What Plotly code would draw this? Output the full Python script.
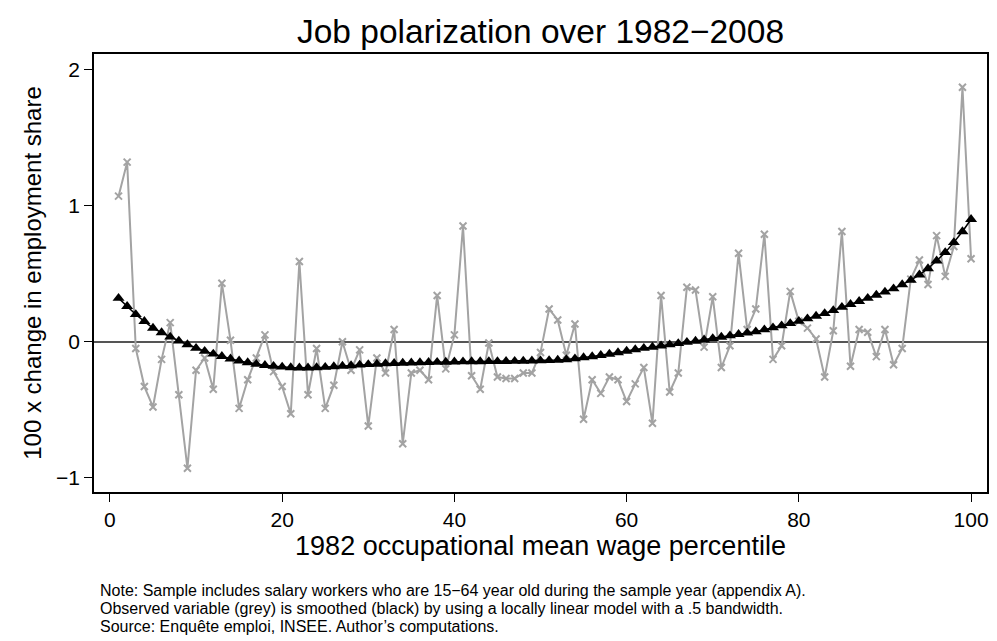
import plotly.graph_objects as go

percentile = list(range(1, 101))

observed = [
    1.07, 1.32, -0.05, -0.33, -0.48, -0.13, 0.14, -0.39, -0.93, -0.21,
    -0.12, -0.35, 0.43, 0.01, -0.49, -0.28, -0.12, 0.05, -0.22, -0.33,
    -0.53, 0.59, -0.39, -0.05, -0.49, -0.32, 0.00, -0.21, -0.06, -0.62,
    -0.12, -0.23, 0.09, -0.75, -0.23, -0.21, -0.28, 0.34, -0.20, 0.05,
    0.85, -0.25, -0.35, -0.01, -0.26, -0.27, -0.27, -0.23, -0.23, -0.08,
    0.24, 0.16, -0.10, 0.13, -0.57, -0.28, -0.38, -0.26, -0.28, -0.44,
    -0.31, -0.19, -0.60, 0.34, -0.37, -0.23, 0.40, 0.38, -0.04, 0.33,
    -0.19, -0.03, 0.65, 0.09, 0.24, 0.79, -0.13, -0.03, 0.37, 0.15,
    0.10, 0.02, -0.26, 0.08, 0.81, -0.18, 0.09, 0.07, -0.11, 0.09,
    -0.17, -0.05, 0.46, 0.60, 0.42, 0.78, 0.48, 0.70, 1.87, 0.61,
]

smoothed = [
    0.32, 0.26, 0.20, 0.15, 0.10, 0.067, 0.035, 0.006, -0.021, -0.048,
    -0.07, -0.09, -0.107, -0.126, -0.141, -0.153, -0.165, -0.174, -0.18, -0.186,
    -0.19, -0.192, -0.192, -0.19, -0.187, -0.183, -0.179, -0.175, -0.171, -0.167,
    -0.164, -0.161, -0.159, -0.157, -0.155, -0.153, -0.152, -0.151, -0.150, -0.148,
    -0.147, -0.146, -0.146, -0.145, -0.145, -0.144, -0.143, -0.142, -0.141, -0.140,
    -0.138, -0.135, -0.131, -0.125, -0.117, -0.109, -0.100, -0.091, -0.080, -0.069,
    -0.058, -0.048, -0.039, -0.030, -0.022, -0.013, -0.004, 0.005, 0.014, 0.024,
    0.034, 0.044, 0.054, 0.064, 0.074, 0.088, 0.103, 0.118, 0.134, 0.151,
    0.169, 0.188, 0.208, 0.230, 0.254, 0.275, 0.297, 0.320, 0.343, 0.366,
    0.390, 0.420, 0.452, 0.492, 0.538, 0.595, 0.656, 0.730, 0.810, 0.900,
]

x_ticks = [0, 20, 40, 60, 80, 100]
y_ticks = [-1, 0, 1, 2]

title_text = "Job polarization over 1982\u22122008"
x_title = "1982 occupational mean wage percentile"
y_title = "100 x change in employment share"
notes = [
    "Note: Sample includes salary workers who are 15\u221264 year old during the sample year (appendix A).",
    "Observed variable (grey) is smoothed (black) by using a locally linear model with a .5 bandwidth.",
    "Source: Enqu\u00eate emploi, INSEE. Author\u2019s computations.",
]

FONT = "Liberation Sans, Arial, Helvetica, sans-serif"

fig = go.Figure()
fig.add_trace(go.Scatter(
    x=percentile, y=observed, mode="lines+markers",
    line=dict(color="#a3a3a3", width=2),
    marker=dict(symbol="x-thin", size=7, line=dict(color="#a3a3a3", width=2)),
    showlegend=False,
))
fig.add_trace(go.Scatter(
    x=percentile, y=smoothed, mode="lines+markers",
    line=dict(color="black", width=1.5),
    marker=dict(symbol="triangle-up", size=10.5, color="black"),
    showlegend=False,
))

fig.update_layout(
    width=997, height=641,
    margin=dict(l=94, r=8, t=54, b=149),
    paper_bgcolor="white", plot_bgcolor="white",
    font=dict(family=FONT, color="black"),
    title=dict(text=title_text, xref="paper", x=0.5, xanchor="center",
               y=1 - 31 / 641, yanchor="middle",
               font=dict(size=33.5, color="black", family=FONT)),
)

fig.update_xaxes(
    range=[-1.85, 101.85], tickvals=x_ticks, ticks="outside", ticklen=8, tickwidth=1.2,
    tickcolor="black", showline=True, linecolor="black", linewidth=1.5, mirror=True,
    showgrid=False, zeroline=False, tickfont=dict(size=21, family=FONT),
    title=dict(text=x_title, font=dict(size=27, family=FONT), standoff=6),
)
fig.update_yaxes(
    range=[-1.105, 2.115], tickvals=y_ticks, ticks="outside", ticklen=8, tickwidth=1.2,
    tickcolor="black", showline=True, linecolor="black", linewidth=1.5, mirror=True,
    showgrid=False, zeroline=True, zerolinecolor="#555555", zerolinewidth=2,
    tickfont=dict(size=21, family=FONT),
    title=dict(text=y_title, font=dict(size=24, family=FONT), standoff=8),
)

for i, line in enumerate(notes):
    fig.add_annotation(
        text=line, xref="paper", yref="paper", x=(98 - 94) / 895, xanchor="left",
        y=-(590 + 18 * i - 492) / 438, yanchor="middle", showarrow=False,
        font=dict(size=16, family=FONT, color="black"), align="left",
    )

fig.write_html("out.html", config={"displayModeBar": False},
               post_script="document.body.style.margin='0';")
